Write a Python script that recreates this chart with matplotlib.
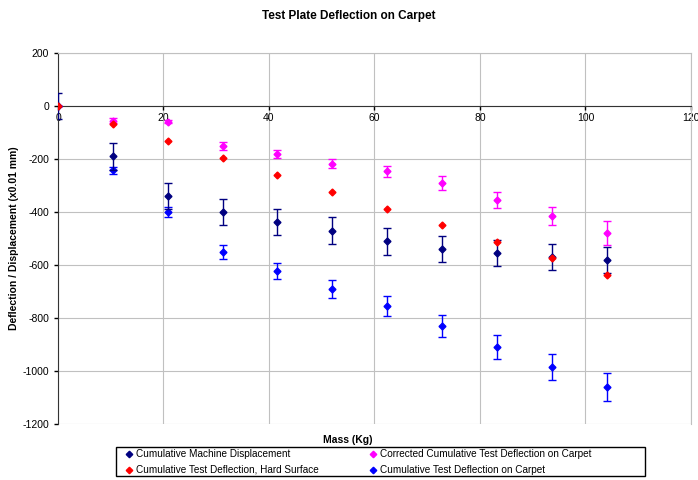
import matplotlib
matplotlib.use("Agg")
import matplotlib.pyplot as plt
from matplotlib.lines import Line2D
from matplotlib.patches import Rectangle

plt.rcParams['font.family'] = ['Liberation Sans', 'DejaVu Sans']
plt.rcParams['axes.unicode_minus'] = False

mass = [0, 10.4, 20.8, 31.2, 41.6, 52.0, 62.4, 72.8, 83.2, 93.6, 104.0]

machine = [0, -190, -339, -400, -437, -470, -511, -540, -555, -569, -582]
machine_err = [50, 50, 50, 50, 50, 50, 50, 50, 50, 50, 50]

hard = [0, -67, -133, -197, -260, -324, -387, -449, -513, -575, -637]

corrected = [0, -55, -59, -152, -181, -217, -247, -291, -354, -415, -479]
corrected_err = [0, 8, 5, 15, 15, 18, 22, 25, 30, 35, 45]

carpet = [0, -243, -400, -551, -621, -689, -756, -831, -911, -984, -1061]
carpet_err = [0, 12, 20, 28, 30, 34, 38, 42, 45, 50, 53]

labels = ['Cumulative Machine Displacement', 'Cumulative Test Deflection, Hard Surface',
          'Corrected Cumulative Test Deflection on Carpet', 'Cumulative Test Deflection on Carpet']
cols = ['#000080', '#FF0000', '#FF00FF', '#0000FF']

fig = plt.figure(figsize=(6.98, 4.80), dpi=100)
ax = fig.add_axes([58/698, 1-424/480, (691-58)/698, (424-53)/480])

ekw = dict(fmt='D', markersize=3.5, capsize=3, elinewidth=1, capthick=1, linestyle='none')
ax.errorbar(mass, machine, yerr=machine_err, color=cols[0], zorder=4, **ekw)
ax.errorbar(mass, hard, color=cols[1], zorder=5, **ekw)
ax.errorbar(mass, corrected, yerr=corrected_err, color=cols[2], zorder=3, **ekw)
ax.errorbar(mass, carpet, yerr=carpet_err, color=cols[3], zorder=3, **ekw)

ax.set_xlim(0, 120)
ax.set_ylim(-1200, 200)
ax.set_xticks(range(0, 121, 20))
ax.set_yticks(range(-1200, 201, 200))
ax.grid(True, color='#C0C0C0', linewidth=0.8)
ax.set_axisbelow(True)

ax.spines['bottom'].set_position(('data', 0))
ax.spines['bottom'].set_color('#333333')
ax.spines['left'].set_color('#333333')
ax.spines['top'].set_color('#C0C0C0')
ax.spines['right'].set_color('#C0C0C0')
ax.spines['top'].set_linewidth(0.8)
ax.spines['right'].set_linewidth(0.8)
ax.tick_params(axis='both', labelsize=7.5, length=3, direction='out', width=1)
ax.tick_params(axis='x', pad=2)

fig.text(0.5, 1-16/480, 'Test Plate Deflection on Carpet', ha='center', va='center',
         fontsize=8.5, fontweight='bold')
fig.text(348/698, 1-440/480, 'Mass (Kg)', ha='center', va='center', fontsize=7.5, fontweight='bold')
fig.text(14/698, 1-238/480, 'Deflection / Displacement (x0.01 mm)', ha='center', va='center',
         rotation=90, fontsize=7.5, fontweight='bold')

handles = [Line2D([], [], marker='D', color=c, linestyle='none', markersize=3.3) for c in cols]
leg = fig.legend(handles, labels, ncol=2, loc='upper left',
                 bbox_to_anchor=(125/698, 1-449/480),
                 fontsize=7.2, frameon=False,
                 handlelength=0.8, handletextpad=0.3, borderpad=0.0, labelspacing=0.6,
                 columnspacing=5.0, borderaxespad=0)
fig.patches.append(Rectangle((116/698, 1-476/480), 529/698, 29/480, transform=fig.transFigure,
                             facecolor='none', edgecolor='black', linewidth=1))

fig.savefig('out.png', dpi=100)
